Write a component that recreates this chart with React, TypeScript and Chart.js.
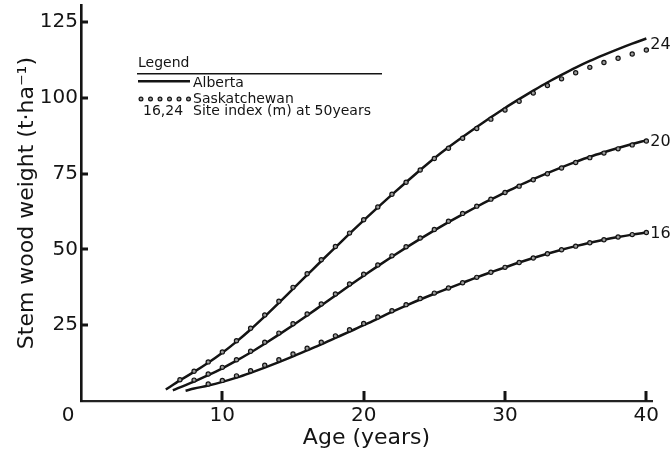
import React, { useEffect, useRef } from "react";
import { Chart, registerables } from "chart.js";

Chart.register(...registerables);

// ---- data ----
const siteIndices = ["24", "20", "16"];

const ageA24 = [6, 7, 8, 9, 10, 11, 12, 13, 14, 15, 16, 17, 18, 19, 20, 21, 22, 23, 24, 25, 26, 27, 28, 29, 30, 31, 32, 33, 34, 35, 36, 37, 38, 39, 40];
const alberta24 = [3.8, 6.8, 9.6, 12.6, 15.9, 19.6, 23.6, 27.9, 32.4, 37.0, 41.6, 46.2, 50.7, 55.2, 59.6, 63.9, 68.1, 72.2, 76.2, 80.1, 83.7, 87.1, 90.4, 93.6, 96.7, 99.6, 102.4, 105.1, 107.6, 110.0, 112.2, 114.2, 116.1, 117.9, 119.6];

const ageS24 = [7, 8, 9, 10, 11, 12, 13, 14, 15, 16, 17, 18, 19, 20, 21, 22, 23, 24, 25, 26, 27, 28, 29, 30, 31, 32, 33, 34, 35, 36, 37, 38, 39, 40];
const sask24 = [7.0, 9.8, 12.9, 16.2, 19.9, 24.0, 28.4, 32.9, 37.5, 42.0, 46.6, 51.0, 55.4, 59.8, 64.0, 68.2, 72.2, 76.2, 80.0, 83.4, 86.7, 89.9, 93.0, 96.0, 98.9, 101.6, 104.1, 106.3, 108.3, 110.1, 111.7, 113.1, 114.5, 115.8];

const ageA20 = [6.5, 7, 8, 9, 10, 11, 12, 13, 14, 15, 16, 17, 18, 19, 20, 21, 22, 23, 24, 25, 26, 27, 28, 29, 30, 31, 32, 33, 34, 35, 36, 37, 38, 39, 40];
const alberta20 = [3.5, 4.5, 6.4, 8.5, 10.8, 13.3, 16.0, 18.9, 21.9, 25.0, 28.2, 31.5, 34.8, 38.1, 41.3, 44.5, 47.6, 50.6, 53.5, 56.3, 59.0, 61.6, 64.1, 66.5, 68.8, 71.1, 73.2, 75.2, 77.1, 78.9, 80.6, 82.1, 83.5, 84.8, 86.0];

const ageS20 = [8, 9, 10, 11, 12, 13, 14, 15, 16, 17, 18, 19, 20, 21, 22, 23, 24, 25, 26, 27, 28, 29, 30, 31, 32, 33, 34, 35, 36, 37, 38, 39, 40];
const sask20 = [6.9, 8.9, 11.1, 13.6, 16.4, 19.4, 22.4, 25.5, 28.7, 32.0, 35.3, 38.6, 41.8, 44.9, 47.9, 50.9, 53.8, 56.6, 59.3, 61.9, 64.3, 66.6, 68.8, 70.9, 73.0, 75.0, 76.9, 78.7, 80.3, 81.8, 83.2, 84.5, 85.8];

const ageA16 = [7.4, 8, 9, 10, 11, 12, 13, 14, 15, 16, 17, 18, 19, 20, 21, 22, 23, 24, 25, 26, 27, 28, 29, 30, 31, 32, 33, 34, 35, 36, 37, 38, 39, 40];
const alberta16 = [3.4, 4.1, 5.1, 6.3, 7.7, 9.3, 11.0, 12.8, 14.7, 16.7, 18.7, 20.8, 22.9, 25.0, 27.2, 29.4, 31.5, 33.5, 35.4, 37.2, 39.0, 40.8, 42.5, 44.1, 45.7, 47.2, 48.6, 49.9, 51.1, 52.2, 53.2, 54.1, 54.9, 55.6];

const ageS16 = [9, 10, 11, 12, 13, 14, 15, 16, 17, 18, 19, 20, 21, 22, 23, 24, 25, 26, 27, 28, 29, 30, 31, 32, 33, 34, 35, 36, 37, 38, 39, 40];
const sask16 = [5.6, 6.8, 8.3, 10.0, 11.8, 13.6, 15.5, 17.4, 19.4, 21.5, 23.5, 25.6, 27.7, 29.8, 31.8, 33.8, 35.6, 37.3, 39.0, 40.8, 42.5, 44.1, 45.7, 47.2, 48.6, 49.9, 51.1, 52.2, 53.2, 54.1, 54.9, 55.6];

const xTicks = [0, 10, 20, 30, 40];
const yTicks = [0, 25, 50, 75, 100, 125];

const legendTitle = "Legend";
const legendAlberta = "Alberta";
const legendSask = "Saskatchewan";
const legendKey = "16,24";
const legendKeyText = "Site index (m) at 50years";
const xTitle = "Age (years)";
const yTitle = "Stem wood weight (t·ha⁻¹)";

const INK = "#141414";
const DOT_FILL = "#9a9a9a";
const FONT = '"DejaVu Sans", sans-serif';

const zip = (xs: number[], ys: number[]) => xs.map((x, i) => ({ x, y: ys[i] }));

const albertaSeries = [
  zip(ageA24, alberta24),
  zip(ageA20, alberta20),
  zip(ageA16, alberta16),
];
const saskSeries = [
  zip(ageS24, sask24),
  zip(ageS20, sask20),
  zip(ageS16, sask16),
];

const extrasPlugin = {
  id: "extras",
  afterDraw(chart: any) {
    const ctx = chart.ctx as CanvasRenderingContext2D;
    const xs = chart.scales.x;
    const ys = chart.scales.y;
    const area = chart.chartArea;
    ctx.save();
    ctx.fillStyle = INK;
    ctx.strokeStyle = INK;

    // inward tick marks
    yTicks.forEach((v) => {
      if (v === 0) return;
      const py = Math.round(ys.getPixelForValue(v));
      ctx.fillRect(area.left, py - 1.5, 7, 3);
    });
    xTicks.forEach((v) => {
      if (v === 0) return;
      const px = Math.round(xs.getPixelForValue(v));
      ctx.fillRect(px - 1.5, area.bottom - 10, 3, 10);
    });

    // corner zero label
    ctx.font = `20px ${FONT}`;
    ctx.textAlign = "center";
    ctx.textBaseline = "middle";
    ctx.fillText(String(xTicks[0]), xs.left - 13, 416);

    // curve end labels
    ctx.font = `16px ${FONT}`;
    ctx.textAlign = "left";
    ctx.textBaseline = "middle";
    siteIndices.forEach((lab, i) => {
      const a = albertaSeries[i][albertaSeries[i].length - 1];
      const s = saskSeries[i][saskSeries[i].length - 1];
      const px = xs.getPixelForValue(a.x) + 4;
      const py = ys.getPixelForValue((a.y + s.y) / 2) + 1;
      ctx.fillText(lab, px, py);
    });

    // legend block
    ctx.font = `14px ${FONT}`;
    ctx.textAlign = "left";
    ctx.textBaseline = "alphabetic";
    ctx.fillText(legendTitle, 138, 67);
    ctx.fillRect(137, 73, 245, 1.5);
    ctx.fillRect(138, 80, 52, 2.5);
    ctx.fillText(legendAlberta, 193, 87);

    ctx.lineWidth = 1.2;
    ctx.fillStyle = DOT_FILL;
    for (let i = 0; i < 6; i++) {
      ctx.beginPath();
      ctx.arc(141 + i * 9.5, 99, 1.9, 0, Math.PI * 2);
      ctx.fill();
      ctx.stroke();
    }
    ctx.fillStyle = INK;
    ctx.fillText(legendSask, 193, 103);

    ctx.fillText(legendKey, 143, 114.5);
    ctx.fillText(legendKeyText, 193, 114.5);
    ctx.restore();
  },
};

export default function App() {
  const ref = useRef<HTMLCanvasElement | null>(null);

  useEffect(() => {
    document.body.style.margin = "0";
    const canvas = ref.current;
    if (!canvas) return;

    const albertaDs = albertaSeries.map((data, i) => ({
      label: `Alberta ${siteIndices[i]}`,
      data,
      borderColor: INK,
      borderWidth: 2.5,
      pointRadius: 0,
      fill: false,
      cubicInterpolationMode: "monotone" as const,
      order: 2,
    }));
    const saskDs = saskSeries.map((data, i) => ({
      label: `Saskatchewan ${siteIndices[i]}`,
      data,
      showLine: false,
      borderColor: INK,
      pointBorderColor: INK,
      pointBackgroundColor: DOT_FILL,
      pointBorderWidth: 1.2,
      pointRadius: 2.1,
      order: 1,
    }));

    const chart = new Chart(canvas, {
      type: "line",
      data: { datasets: [...albertaDs, ...saskDs] },
      options: {
        animation: false,
        responsive: false,
        maintainAspectRatio: false,
        layout: { padding: { top: 5, right: 20, left: 0, bottom: 0 } },
        plugins: {
          legend: { display: false },
          tooltip: { enabled: false },
        },
        scales: {
          x: {
            type: "linear",
            min: 0,
            max: 40.4,
            afterFit: (s: any) => {
              s.height = 55;
              s.paddingLeft = 0;
              s.paddingRight = 0;
            },
            afterBuildTicks: (s: any) => {
              s.ticks = xTicks.map((v) => ({ value: v }));
            },
            ticks: {
              autoSkip: false,
              maxRotation: 0,
              padding: 3,
              color: INK,
              font: { family: FONT, size: 20 },
              callback: (v: any) => (v === 0 ? "" : String(v)),
            },
            grid: {
              display: false,
              drawOnChartArea: false,
              drawTicks: false,
            },
            border: { display: true, color: "#222", width: 2.2 },
            title: {
              display: true,
              text: xTitle,
              color: INK,
              font: { family: FONT, size: 22 },
              padding: { top: 0, bottom: 5 },
            },
          },
          y: {
            type: "linear",
            min: 0,
            max: 130.6,
            afterFit: (s: any) => {
              s.width = 81;
              s.paddingTop = 0;
              s.paddingBottom = 0;
            },
            afterBuildTicks: (s: any) => {
              s.ticks = yTicks.map((v) => ({ value: v }));
            },
            ticks: {
              autoSkip: false,
              padding: 3,
              color: INK,
              font: { family: FONT, size: 20 },
              callback: (v: any) => (v === 0 ? "" : String(v)),
            },
            grid: {
              display: false,
              drawOnChartArea: false,
              drawTicks: false,
            },
            border: { display: true, color: INK, width: 2.6 },
            title: {
              display: true,
              text: yTitle,
              color: INK,
              font: { family: FONT, size: 22 },
              padding: { top: 14, bottom: 0 },
            },
          },
        },
      },
      plugins: [extrasPlugin],
    });

    return () => chart.destroy();
  }, []);

  return (
    <div style={{ width: 672, height: 456 }}>
      <canvas ref={ref} width={672} height={456} />
    </div>
  );
}
